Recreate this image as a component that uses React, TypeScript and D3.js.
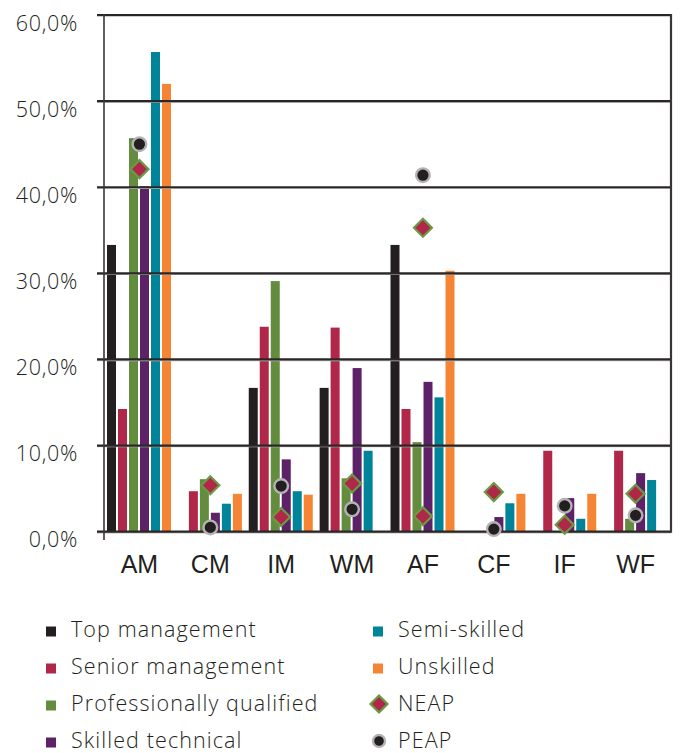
import React from "react";
import * as d3 from "d3";

const categories = ["AM", "CM", "IM", "WM", "AF", "CF", "IF", "WF"];
const seriesNames = ["Top management", "Senior management", "Professionally qualified", "Skilled technical", "Semi-skilled", "Unskilled"];
const seriesColors = ["#231f20", "#b0274a", "#648c3f", "#5c2166", "#00849a", "#f58535"];

// one array per occupational level, values in %
const topManagement = [33.3, 0, 16.7, 16.7, 33.3, 0, 0, 0];
const seniorManagement = [14.25, 4.7, 23.8, 23.7, 14.25, 0, 9.4, 9.4];
const profQualified = [45.7, 6.1, 29.1, 6.2, 10.4, 0, 0, 1.5];
const skilledTechnical = [40.1, 2.2, 8.4, 19.0, 17.4, 1.7, 3.9, 6.8];
const semiSkilled = [55.7, 3.25, 4.7, 9.4, 15.6, 3.3, 1.5, 6.0];
const unskilled = [52.0, 4.4, 4.3, 0, 30.3, 4.4, 4.4, 0];

const neap = [42.1, 5.4, 1.7, 5.6, 35.3, 4.6, 0.8, 4.4];
const neapExtra = [{ cat: "AF", value: 1.8 }];
const peap = [45.0, 0.5, 5.3, 2.6, 41.4, 0.3, 3.0, 1.9];

const yTicks = [0, 10, 20, 30, 40, 50, 60];

const series = [topManagement, seniorManagement, profQualified, skilledTechnical, semiSkilled, unskilled];

const W = 680;
const H = 753;
const left = 104;
const right = 671;
const top = 15;
const bottom = 531.7;

const textColor = "#231f20";
const labelFont = "'Open Sans', 'Liberation Sans', sans-serif";

function Diamond({ cx, cy, r }: { cx: number; cy: number; r: number }) {
  return (
    <path
      d={`M${cx},${cy - r}L${cx + r},${cy}L${cx},${cy + r}L${cx - r},${cy}Z`}
      fill="#b0274a"
      stroke="#6a9a45"
      strokeWidth={2.2}
    />
  );
}

function Dot({ cx, cy, r }: { cx: number; cy: number; r: number }) {
  return <circle cx={cx} cy={cy} r={r} fill="#231f20" stroke="#b3b3b3" strokeWidth={2.4} />;
}

function LegendText({ x, y, children }: { x: number; y: number; children: React.ReactNode }) {
  return (
    <text x={x} y={y} fontFamily={labelFont} fontWeight={300} fontSize={21.5} letterSpacing={1.1} fill={textColor}>
      {children}
    </text>
  );
}

export default function App() {
  const x0 = d3.scaleBand<string>().domain(categories).range([left, right]).padding(0);
  const x1 = d3
    .scaleBand<number>()
    .domain(d3.range(series.length))
    .range([3, 67])
    .paddingInner(2 / 11)
    .paddingOuter(0);
  const y = d3.scaleLinear().domain([0, 60]).range([bottom, top]);

  const cx = (c: string) => (x0(c) as number) + x0.bandwidth() / 2;

  const legendLeft = seriesNames.slice(0, 4);
  const legendRight = seriesNames.slice(4);
  const rowY = (i: number) => 637 + i * 37;

  return (
    <svg width={W} height={H} style={{ position: "absolute", left: 0, top: 0, background: "#fff" }}>
      {/* bars */}
      {categories.map((c, ci) => (
        <g key={c} transform={`translate(${x0(c)},0)`}>
          {series.map((s, si) =>
            s[ci] > 0 ? (
              <rect
                key={si}
                x={x1(si)}
                y={y(s[ci])}
                width={x1.bandwidth()}
                height={bottom - y(s[ci])}
                fill={seriesColors[si]}
              />
            ) : null
          )}
        </g>
      ))}

      {/* grid lines, drawn over bars */}
      {yTicks.map((t) => (
        <g key={t}>
          <line x1={97} x2={right} y1={y(t) + 1} y2={y(t) + 1} stroke="#bdbdbd" strokeWidth={1.5} />
          <line x1={97} x2={right} y1={y(t)} y2={y(t)} stroke="#2a2627" strokeWidth={2.2} />
          <text
            x={78}
            y={y(t) + 15.5}
            textAnchor="end"
            fontFamily={labelFont}
            fontWeight={300}
            fontSize={21.5}
            letterSpacing={0.7}
            fill={textColor}
          >
            {d3.format(".1f")(t).replace(".", ",")}%
          </text>
        </g>
      ))}
      <line x1={left} x2={left} y1={top - 1} y2={540} stroke="#3a3637" strokeWidth={1.6} />
      <line x1={right} x2={right} y1={top - 1} y2={bottom + 1} stroke="#3a3637" strokeWidth={2.2} />

      {categories.map((c) => (
        <text
          key={c}
          x={cx(c)}
          y={573}
          textAnchor="middle"
          fontFamily="'Liberation Sans Narrow', 'Liberation Sans', sans-serif"
          fontSize={25}
          fill={textColor}
        >
          {c}
        </text>
      ))}

      {/* markers */}
      {categories.map((c, ci) => (
        <Diamond key={"n" + c} cx={cx(c)} cy={y(neap[ci])} r={9} />
      ))}
      {neapExtra.map((d) => (
        <Diamond key={"ne" + d.cat} cx={cx(d.cat)} cy={y(d.value)} r={9} />
      ))}
      {categories.map((c, ci) => (
        <Dot key={"p" + c} cx={cx(c)} cy={y(peap[ci])} r={6.8} />
      ))}

      {/* legend */}
      {legendLeft.map((n, i) => (
        <g key={n}>
          <rect x={46} y={rowY(i) - 10.5} width={10} height={10} fill={seriesColors[i]} />
          <LegendText x={71} y={rowY(i)}>{n}</LegendText>
        </g>
      ))}
      {legendRight.map((n, i) => (
        <g key={n}>
          <rect x={373} y={rowY(i) - 10.5} width={10} height={10} fill={seriesColors[i + 4]} />
          <LegendText x={398} y={rowY(i)}>{n}</LegendText>
        </g>
      ))}
      <Diamond cx={379} cy={rowY(2) - 7} r={8.5} />
      <LegendText x={398} y={rowY(2)}>NEAP</LegendText>
      <Dot cx={379} cy={rowY(3) - 7} r={6} />
      <LegendText x={398} y={rowY(3)}>PEAP</LegendText>
    </svg>
  );
}
